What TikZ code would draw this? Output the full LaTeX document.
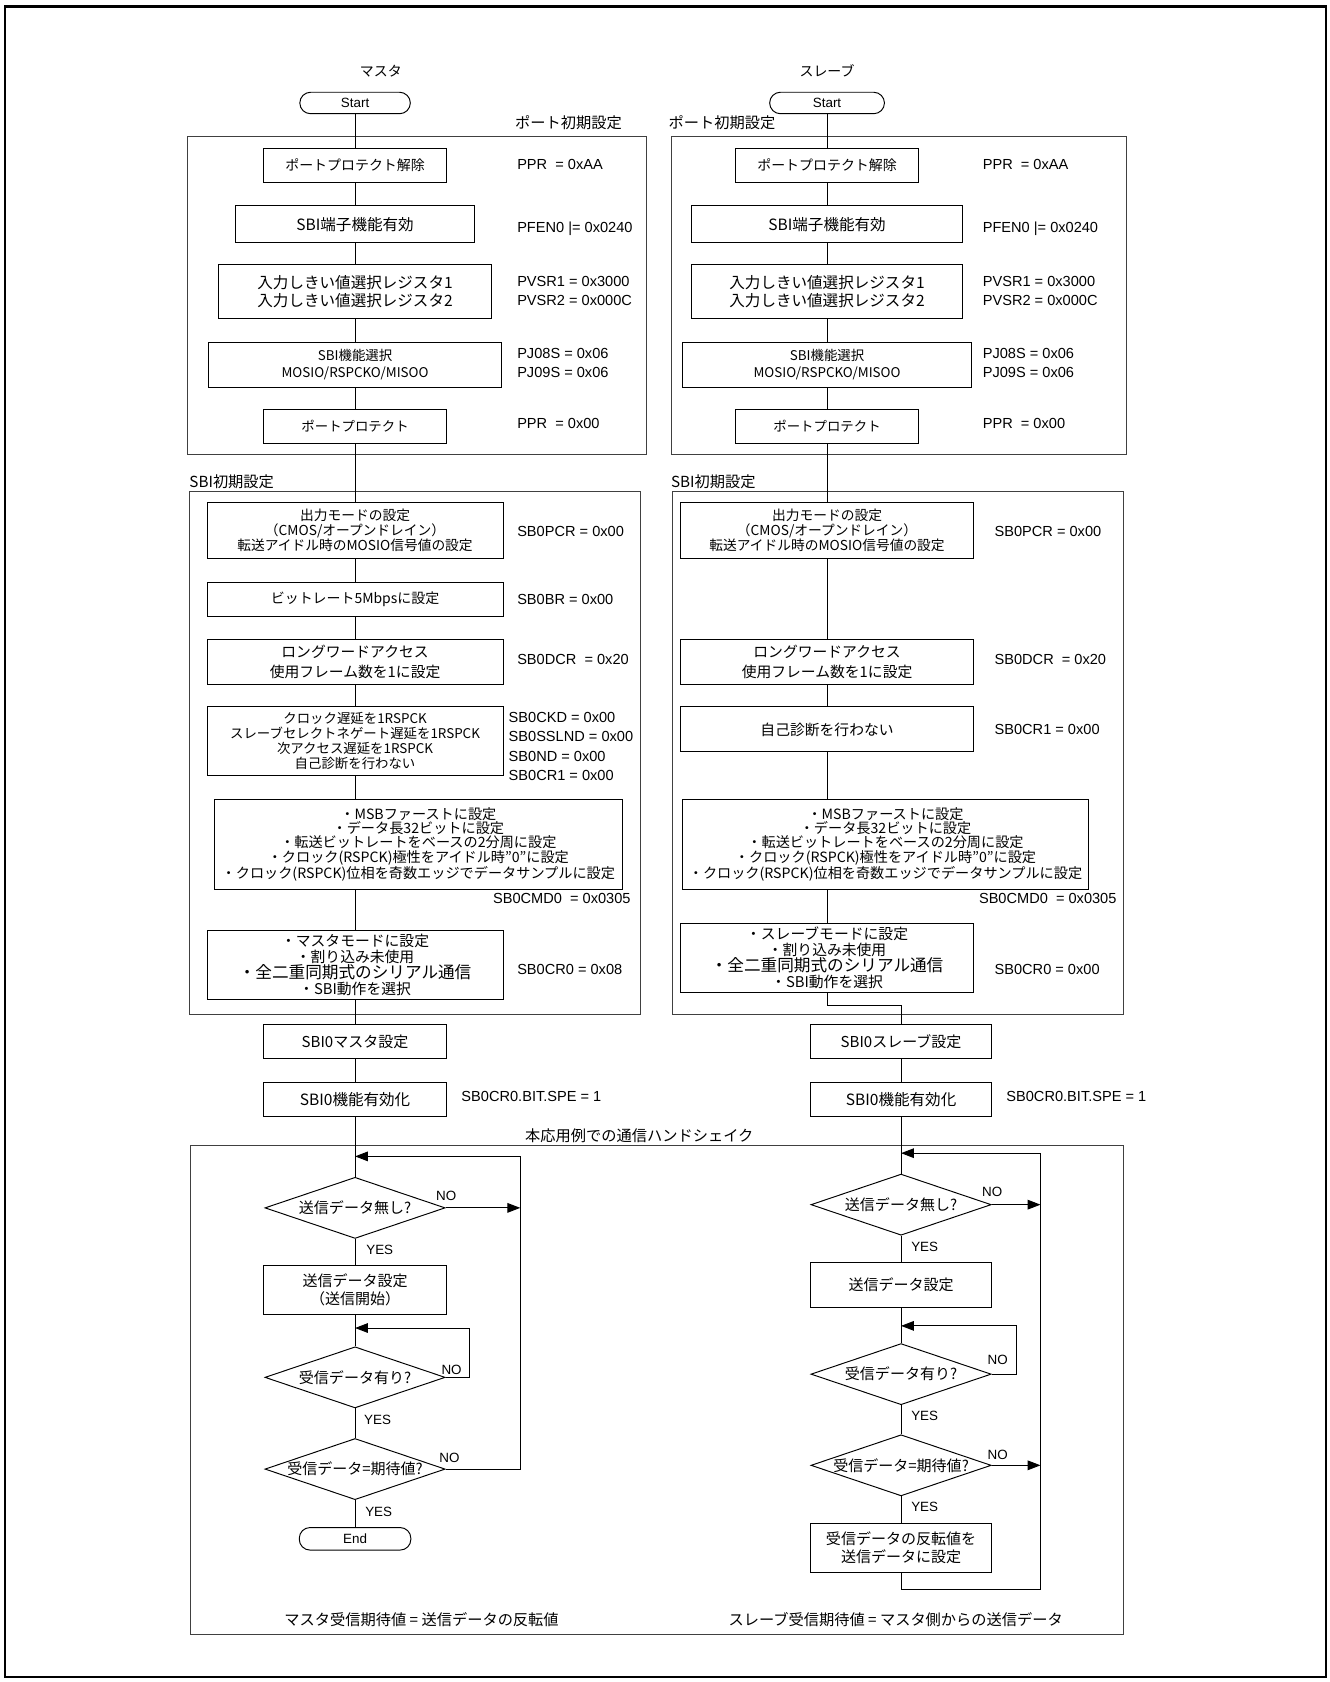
\documentclass[tikz,border=0pt]{standalone}
\usepackage{fontspec}
\setmainfont{Noto Sans CJK JP}
\newfontfamily\regfont{Liberation Sans}
\usetikzlibrary{arrows.meta, shapes.geometric}

\begin{document}
\begin{tikzpicture}[
    x=1pt, y=-1pt,
    % Define box styles
    base/.style={draw, line width=0.9pt, inner sep=0pt, align=center, font=\fontsize{13}{15}\selectfont},
    proc/.style={base},
    term/.style={base, rounded corners=10pt, font=\regfont\fontsize{12.5}{14}\selectfont},
    decide/.style={base, diamond, aspect=3, minimum width=168pt, minimum height=57pt, font=\fontsize{14}{16}\selectfont},
    area/.style={draw=black!75, line width=0.9pt},
    reg/.style={anchor=west, align=left, inner sep=0pt, font=\regfont\fontsize{13.6}{18}\selectfont},
    heading/.style={inner sep=0pt, font=\fontsize{14.2}{16}\selectfont},
    yn/.style={inner sep=0pt, font=\regfont\fontsize{12.5}{14}\selectfont},
    flow/.style={line width=0.9pt},
    % Arrow style
    >={Triangle[length=12pt, width=9pt]}
]
    \useasboundingbox (0,0) rectangle (1239,1568);
    \draw[line width=2pt] (5,6) rectangle (1236,1563);

    % --- GROUP FRAMES ---
    \draw[area] (175,127) rectangle (603,424);
    \draw[area] (626,127) rectangle (1050,424);
    \draw[area] (177,458) rectangle (597,946);
    \draw[area] (627,458) rectangle (1047,946);
    \draw[area] (178,1068) rectangle (1047,1524);

    % --- HEADINGS ---
    \node[heading, font=\fontsize{13}{15}\selectfont] (mTitle) at (355,66) {マスタ};
    \node[heading, font=\fontsize{13}{15}\selectfont] (sTitle) at (771,66) {スレーブ};
    \node[heading] (mPortCap) at (530,114) {ポート初期設定};
    \node[heading] (sPortCap) at (673,114) {ポート初期設定};
    \node[heading] (mSbiCap) at (216,449) {SBI初期設定};
    \node[heading] (sSbiCap) at (665,449) {SBI初期設定};
    \node[heading] (hsCap) at (596,1059) {本応用例での通信ハンドシェイク};

    % --- MASTER NODES ---
    \node[term, minimum width=103pt, minimum height=20pt] (mStart) at (331,96) {Start};
    \node[proc, minimum width=170pt, minimum height=32pt] (mUnlock) at (331,154) {ポートプロテクト解除};
    \node[proc, minimum width=223pt, minimum height=34pt, font=\fontsize{14.5}{16}\selectfont] (mPfen) at (331,209) {SBI端子機能有効};
    \node[proc, minimum width=254pt, minimum height=50pt, font=\fontsize{14.5}{16.5}\selectfont] (mPvsr) at (331,272) {入力しきい値選択レジスタ1\\入力しきい値選択レジスタ2};
    \node[proc, minimum width=273pt, minimum height=42pt, font=\fontsize{12.5}{16}\selectfont] (mPj) at (331,340) {SBI機能選択\\MOSIO/RSPCKO/MISOO};
    \node[proc, minimum width=170pt, minimum height=31pt, font=\fontsize{12.5}{15}\selectfont] (mLock) at (331,397.5) {ポートプロテクト};

    \node[proc, minimum width=276pt, minimum height=53pt, font=\fontsize{12.8}{14}\selectfont] (mPcr) at (331,494.5) {出力モードの設定\\（CMOS/オープンドレイン）\\転送アイドル時のMOSIO信号値の設定};
    \node[proc, minimum width=276pt, minimum height=32pt] (mBr) at (331,559) {ビットレート5Mbpsに設定};
    \node[proc, minimum width=276pt, minimum height=42pt, font=\fontsize{13.8}{18}\selectfont] (mDcr) at (331,617) {ロングワードアクセス\\使用フレーム数を1に設定};
    \node[proc, minimum width=276pt, minimum height=64pt, font=\fontsize{12.5}{14}\selectfont] (mCkd) at (331,691) {クロック遅延を1RSPCK\\スレーブセレクトネゲート遅延を1RSPCK\\次アクセス遅延を1RSPCK\\自己診断を行わない};
    \node[proc, minimum width=380pt, minimum height=84pt, font=\fontsize{13.2}{13.3}\selectfont] (mCmd) at (390,787) {・MSBファーストに設定\\・データ長32ビットに設定\\・転送ビットレートをベースの2分周に設定\\・クロック(RSPCK)極性をアイドル時”0”に設定\\・クロック(RSPCK)位相を奇数エッジでデータサンプルに設定};
    \node[proc, minimum width=276pt, minimum height=65pt, font=\fontsize{13.8}{15}\selectfont] (mCr0) at (331,899.5) {・マスタモードに設定\\・割り込み未使用\\{\fontsize{15.5}{15}\selectfont ・全二重同期式のシリアル通信}\\・SBI動作を選択};
    \node[proc, minimum width=170pt, minimum height=32pt, font=\fontsize{14}{16}\selectfont] (mMaster) at (331,971) {SBI0マスタ設定};
    \node[proc, minimum width=170pt, minimum height=32pt, font=\fontsize{14.5}{16}\selectfont] (mSpe) at (331,1025) {SBI0機能有効化};

    \node[decide] (mNoData) at (331,1126) {送信データ無し?};
    \node[proc, minimum width=170pt, minimum height=45pt, font=\fontsize{14}{17}\selectfont] (mSend) at (331,1202.5) {送信データ設定\\（送信開始）};
    \node[decide] (mRecv) at (331,1284) {受信データ有り?};
    \node[decide] (mCheck) at (331,1369.5) {受信データ=期待値?};
    \node[term, minimum width=104pt, minimum height=21pt] (mEnd) at (331,1434.5) {End};

    % --- MASTER REGISTER VALUES ---
    \node[reg] (mRegPpr) at (482,153) {PPR\ \ = 0xAA};
    \node[reg] (mRegPfen) at (482,213) {PFEN0 |= 0x0240};
    \node[reg] (mRegPvsr) at (482,271) {PVSR1 = 0x3000\\PVSR2 = 0x000C};
    \node[reg] (mRegPj) at (482,338.5) {PJ08S = 0x06\\PJ09S = 0x06};
    \node[reg] (mRegPpr2) at (482,395) {PPR\ \ = 0x00};
    \node[reg] (mRegPcr) at (482,495) {SB0PCR = 0x00};
    \node[reg] (mRegBr) at (482,559) {SB0BR = 0x00};
    \node[reg] (mRegDcr) at (482,615) {SB0DCR\ \ = 0x20};
    \node[reg] (mRegCkd) at (474,696) {SB0CKD = 0x00\\SB0SSLND = 0x00\\SB0ND = 0x00\\SB0CR1 = 0x00};
    \node[reg, anchor=east] (mRegCmd) at (588,838) {SB0CMD0\ \ = 0x0305};
    \node[reg] (mRegCr0) at (482,904) {SB0CR0 = 0x08};
    \node[reg] (mRegSpe) at (430,1022) {SB0CR0.BIT.SPE = 1};

    % --- SLAVE NODES ---
    \node[term, minimum width=107pt, minimum height=20pt] (sStart) at (771,96) {Start};
    \node[proc, minimum width=170pt, minimum height=32pt] (sUnlock) at (771,154) {ポートプロテクト解除};
    \node[proc, minimum width=252pt, minimum height=34pt, font=\fontsize{14.5}{16}\selectfont] (sPfen) at (771,209) {SBI端子機能有効};
    \node[proc, minimum width=252pt, minimum height=50pt, font=\fontsize{14.5}{16.5}\selectfont] (sPvsr) at (771,272) {入力しきい値選択レジスタ1\\入力しきい値選択レジスタ2};
    \node[proc, minimum width=270pt, minimum height=42pt, font=\fontsize{12.5}{16}\selectfont] (sPj) at (771,340) {SBI機能選択\\MOSIO/RSPCKO/MISOO};
    \node[proc, minimum width=170pt, minimum height=31pt, font=\fontsize{12.5}{15}\selectfont] (sLock) at (771,397.5) {ポートプロテクト};

    \node[proc, minimum width=273pt, minimum height=53pt, font=\fontsize{12.8}{14}\selectfont] (sPcr) at (771,494.5) {出力モードの設定\\（CMOS/オープンドレイン）\\転送アイドル時のMOSIO信号値の設定};
    \node[proc, minimum width=273pt, minimum height=42pt, font=\fontsize{13.8}{18}\selectfont] (sDcr) at (771,617) {ロングワードアクセス\\使用フレーム数を1に設定};
    \node[proc, minimum width=273pt, minimum height=42pt, font=\fontsize{13.8}{16}\selectfont] (sSelf) at (771,680) {自己診断を行わない};
    \node[proc, minimum width=379pt, minimum height=84pt, font=\fontsize{13.2}{13.3}\selectfont] (sCmd) at (825.5,787) {・MSBファーストに設定\\・データ長32ビットに設定\\・転送ビットレートをベースの2分周に設定\\・クロック(RSPCK)極性をアイドル時”0”に設定\\・クロック(RSPCK)位相を奇数エッジでデータサンプルに設定};
    \node[proc, minimum width=273pt, minimum height=64pt, font=\fontsize{13.8}{15}\selectfont] (sCr0) at (771,893) {・スレーブモードに設定\\・割り込み未使用\\{\fontsize{15.5}{15}\selectfont ・全二重同期式のシリアル通信}\\・SBI動作を選択};
    \node[proc, minimum width=168pt, minimum height=32pt, font=\fontsize{14}{16}\selectfont] (sSlave) at (840,971) {SBI0スレーブ設定};
    \node[proc, minimum width=168pt, minimum height=32pt, font=\fontsize{14.5}{16}\selectfont] (sSpe) at (840,1025) {SBI0機能有効化};

    \node[decide] (sNoData) at (840,1123) {送信データ無し?};
    \node[proc, minimum width=168pt, minimum height=42pt, font=\fontsize{14}{17}\selectfont] (sSend) at (840,1198) {送信データ設定};
    \node[decide] (sRecv) at (840,1281) {受信データ有り?};
    \node[decide] (sCheck) at (840,1366) {受信データ=期待値?};
    \node[proc, minimum width=168pt, minimum height=46pt, font=\fontsize{14}{17}\selectfont] (sInv) at (840,1443) {受信データの反転値を\\送信データに設定};

    % --- SLAVE REGISTER VALUES ---
    \node[reg] (sRegPpr) at (916,153) {PPR\ \ = 0xAA};
    \node[reg] (sRegPfen) at (916,213) {PFEN0 |= 0x0240};
    \node[reg] (sRegPvsr) at (916,271) {PVSR1 = 0x3000\\PVSR2 = 0x000C};
    \node[reg] (sRegPj) at (916,338.5) {PJ08S = 0x06\\PJ09S = 0x06};
    \node[reg] (sRegPpr2) at (916,395) {PPR\ \ = 0x00};
    \node[reg] (sRegPcr) at (927,495) {SB0PCR = 0x00};
    \node[reg] (sRegDcr) at (927,615) {SB0DCR\ \ = 0x20};
    \node[reg] (sRegCr1) at (927,680) {SB0CR1 = 0x00};
    \node[reg, anchor=east] (sRegCmd) at (1041,838) {SB0CMD0\ \ = 0x0305};
    \node[reg] (sRegCr0) at (927,904) {SB0CR0 = 0x00};
    \node[reg] (sRegSpe) at (938,1022) {SB0CR0.BIT.SPE = 1};

    % --- NOTES ---
    \node[heading] (mNote) at (393,1510) {マスタ受信期待値 = 送信データの反転値};
    \node[heading] (sNote) at (835,1510) {スレーブ受信期待値 = マスタ側からの送信データ};

    % --- BRANCH LABELS ---
    \node[yn] (mNo1) at (416,1115) {NO};
    \node[yn] (mYes1) at (354,1165) {YES};
    \node[yn] (mNo2) at (421,1277) {NO};
    \node[yn] (mYes2) at (352,1324) {YES};
    \node[yn] (mNo3) at (419,1359) {NO};
    \node[yn] (mYes3) at (353,1409) {YES};
    \node[yn] (sNo1) at (925,1111) {NO};
    \node[yn] (sYes1) at (862,1162) {YES};
    \node[yn] (sNo2) at (930,1268) {NO};
    \node[yn] (sYes2) at (862,1320) {YES};
    \node[yn] (sNo3) at (930,1356) {NO};
    \node[yn] (sYes3) at (862,1405) {YES};

    % --- LOOP CORNERS ---
    \coordinate (mLoopTop) at (485,1078);
    \coordinate (mInner) at (438,1238);
    \coordinate (sJog) at (840,937);
    \coordinate (sLoopTop) at (970,1075);
    \coordinate (sLoopBot) at (970,1482);
    \coordinate (sInner) at (948,1236);

    % --- MASTER EDGES ---
    \draw[flow] (mStart) -- (mUnlock) -- (mPfen) -- (mPvsr) -- (mPj) -- (mLock) -- (mPcr) -- (mBr) -- (mDcr) -- (mCkd);
    \draw[flow] (mCkd.south) -- (mCkd.south |- mCmd.north);
    \draw[flow] (mCmd.south -| mCr0.north) -- (mCr0.north);
    \draw[flow] (mCr0) -- (mMaster) -- (mSpe) -- (mNoData) -- (mSend) -- (mRecv) -- (mCheck) -- (mEnd);
    \draw[flow, ->] (mNoData.east) -- (mNoData.east -| mLoopTop);
    \draw[flow, ->] (mCheck.east) -| (mLoopTop) -- (mLoopTop -| mNoData.north);
    \draw[flow, ->] (mRecv.east) -| (mInner) -- (mInner -| mRecv.north);

    % --- SLAVE EDGES ---
    \draw[flow] (sStart) -- (sUnlock) -- (sPfen) -- (sPvsr) -- (sPj) -- (sLock) -- (sPcr) -- (sDcr) -- (sSelf);
    \draw[flow] (sSelf.south) -- (sSelf.south |- sCmd.north);
    \draw[flow] (sCmd.south -| sCr0.north) -- (sCr0.north);
    \draw[flow] (sCr0.south) |- (sJog) -- (sSlave.north);
    \draw[flow] (sSlave) -- (sSpe) -- (sNoData) -- (sSend) -- (sRecv) -- (sCheck) -- (sInv);
    \draw[flow, ->] (sNoData.east) -- (sNoData.east -| sLoopTop);
    \draw[flow, ->] (sCheck.east) -- (sCheck.east -| sLoopTop);
    \draw[flow, ->] (sInv.south) |- (sLoopBot) -- (sLoopTop) -- (sLoopTop -| sNoData.north);
    \draw[flow, ->] (sRecv.east) -| (sInner) -- (sInner -| sRecv.north);

\end{tikzpicture}
\end{document}
